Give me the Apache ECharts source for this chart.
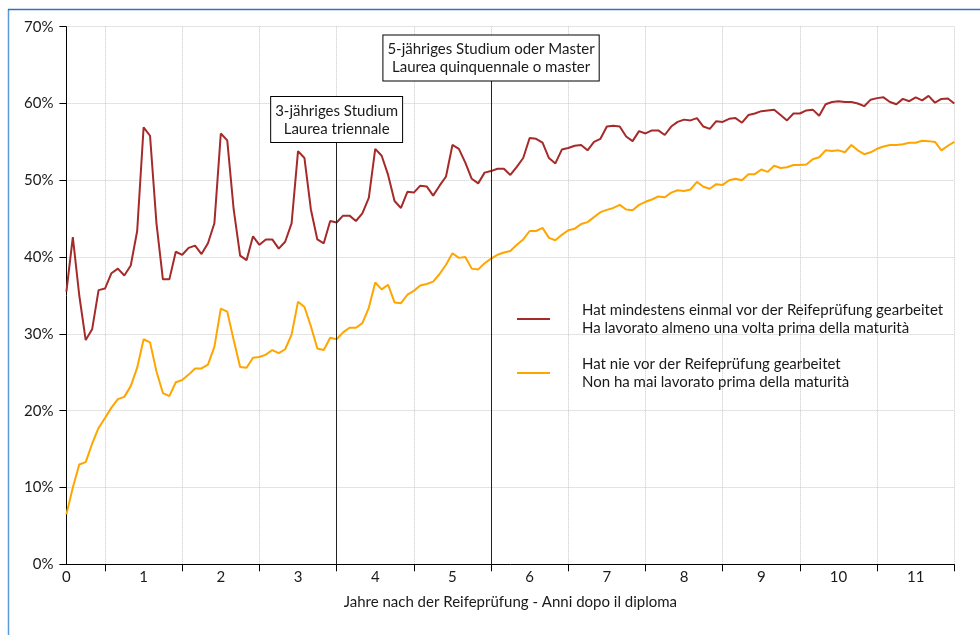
<!DOCTYPE html>
<html>
<head>
<meta charset="utf-8">
<script src="https://cdn.jsdelivr.net/npm/echarts@6/dist/echarts.min.js"></script>
<style>
  html, body { margin: 0; padding: 0; background: #fff; }
  #chart { width: 980px; height: 635px; }
</style>
</head>
<body>
<div id="chart"></div>
<script>
// ---- data (monthly values, month 0 .. 138) ----
const seriesNames = [
  'Hat mindestens einmal vor der Reifeprüfung gearbeitet\nHa lavorato almeno una volta prima della maturità',
  'Hat nie vor der Reifeprüfung gearbeitet\nNon ha mai lavorato prima della maturità'
];
const workedBefore = [
  35.5, 42.6, 35.0, 29.2, 30.6, 35.7, 35.9, 37.9, 38.5, 37.6, 38.9, 43.4,
  56.9, 55.8, 44.4, 37.1, 37.1, 40.7, 40.3, 41.2, 41.5, 40.4, 41.8, 44.4,
  56.1, 55.2, 46.2, 40.2, 39.6, 42.7, 41.6, 42.3, 42.3, 41.1, 42.0, 44.4,
  53.8, 52.9, 46.2, 42.3, 41.8, 44.7, 44.5, 45.4, 45.4, 44.7, 45.7, 47.7,
  54.1, 53.2, 50.7, 47.3, 46.4, 48.5, 48.4, 49.3, 49.2, 48.0, 49.3, 50.5,
  54.6, 54.1, 52.3, 50.2, 49.6, 51.0, 51.2, 51.5, 51.5, 50.7, 51.75, 52.9,
  55.5, 55.4, 54.9, 52.9, 52.2, 54.0, 54.2, 54.5, 54.6, 53.9, 55.0, 55.4,
  57.0, 57.1, 57.0, 55.7, 55.1, 56.4, 56.1, 56.5, 56.5, 55.9, 57.0, 57.6,
  57.9, 57.8, 58.1, 57.0, 56.7, 57.7, 57.6, 58.0, 58.1, 57.5, 58.5, 58.7,
  59.0, 59.1, 59.2, 58.5, 57.8, 58.7, 58.7, 59.1, 59.2, 58.4, 59.9, 60.2,
  60.3, 60.2, 60.2, 60.0, 59.65, 60.5, 60.7, 60.8, 60.2, 59.9, 60.6, 60.3,
  60.8, 60.4, 61.0, 60.1, 60.6, 60.65, 60.0
];
const neverWorked = [
  6.5, 10.0, 13.0, 13.3, 15.7, 17.75, 19.05, 20.4, 21.5, 21.8, 23.2, 25.6,
  29.3, 28.9, 25.1, 22.3, 21.9, 23.7, 24.0, 24.7, 25.5, 25.5, 26.0, 28.3,
  33.3, 32.9, 29.2, 25.7, 25.6, 26.9, 27.0, 27.3, 27.9, 27.5, 28.0, 29.9,
  34.2, 33.5, 31.0, 28.1, 27.9, 29.5, 29.3, 30.2, 30.8, 30.8, 31.4, 33.4,
  36.7, 35.8, 36.4, 34.1, 34.0, 35.1, 35.6, 36.3, 36.5, 36.8, 37.8, 39.0,
  40.5, 39.9, 40.0, 38.5, 38.4, 39.2, 39.8, 40.3, 40.6, 40.8, 41.6, 42.3,
  43.4, 43.4, 43.8, 42.5, 42.2, 42.9, 43.5, 43.7, 44.3, 44.55, 45.2, 45.85,
  46.15, 46.4, 46.8, 46.2, 46.1, 46.8, 47.2, 47.5, 47.9, 47.8, 48.4, 48.7,
  48.6, 48.8, 49.8, 49.15, 48.9, 49.5, 49.4, 50.0, 50.2, 50.0, 50.8, 50.8,
  51.4, 51.1, 51.9, 51.6, 51.7, 52.0, 52.0, 52.05, 52.75, 53.0, 53.9, 53.8,
  53.9, 53.65, 54.6, 53.9, 53.4, 53.65, 54.1, 54.4, 54.6, 54.6, 54.7, 54.9,
  54.9, 55.15, 55.1, 55.0, 53.9, 54.5, 55.0
];
// month categories (0 .. 138) and year tick labels
const months = workedBefore.map((_, i) => String(i));
const yearLabels = ['0','1','2','3','4','5','6','7','8','9','10','11'];
// study-length markers: month of vertical line, value where it ends, box text
const markerMonths = [42, 66];
const markerTops = [55.0, 63.0];
const markerTexts = [
  '3-jähriges Studium\nLaurea triennale',
  '5-jähriges Studium oder Master\nLaurea quinquennale o master'
];
const axisTitle = 'Jahre nach der Reifeprüfung - Anni dopo il diploma';

const FONT = 'Lato';
const TXT = '#1a1a1a';
const chart = echarts.init(document.getElementById('chart'), null, { renderer: 'canvas' });

const markLineData = markerMonths.map((m, i) => [
  { coord: [String(m), 0] },
  { coord: [String(m), markerTops[i]],
    label: {
      show: true, position: 'end', distance: 0,
      formatter: markerTexts[i],
      backgroundColor: '#fff', borderColor: '#000', borderWidth: 1,
      padding: [5, 4, 4, 4], lineHeight: 18, fontSize: 15,
      fontFamily: FONT, color: TXT, align: 'center'
    } }
]);

chart.setOption({
  animation: false,
  textStyle: { fontFamily: FONT },
  graphic: [
    { type: 'line', shape: { x1: 8.5, y1: 9, x2: 8.5, y2: 635 }, style: { stroke: '#5a9bd5', lineWidth: 1.5 } },
    { type: 'line', shape: { x1: 8, y1: 9.5, x2: 980, y2: 9.5 }, style: { stroke: '#2e75b6', lineWidth: 1.5 } }
  ],
  grid: { left: 66.4, right: 25.7, top: 26.7, bottom: 70.7, containLabel: false },
  legend: {
    orient: 'vertical', left: 517, top: 301, padding: 0,
    icon: 'rect', itemWidth: 33, itemHeight: 2, itemGap: 18,
    textStyle: { fontSize: 15, lineHeight: 18, color: TXT, fontFamily: FONT, padding: [0, 0, 0, 27] },
    data: seriesNames
  },
  xAxis: {
    type: 'category', data: months, boundaryGap: false,
    axisLine: { lineStyle: { color: '#000', width: 1 } },
    axisTick: { show: true, length: 7, lineStyle: { color: '#000' },
      interval: (idx) => idx % 12 === 6 },
    axisLabel: { fontSize: 15, color: TXT, margin: 5, fontFamily: FONT,
      interval: (idx) => idx % 12 === 0,
      formatter: (v, idx) => yearLabels[idx / 12] },
    splitLine: { show: true, interval: (idx) => idx % 12 === 6,
      lineStyle: { color: '#c8c8c8', type: 'dotted', width: 1 } },
    name: axisTitle, nameLocation: 'middle', nameGap: 30,
    nameTextStyle: { fontSize: 15, color: TXT, fontFamily: FONT }
  },
  yAxis: {
    type: 'value', min: 0, max: 70, interval: 10,
    axisLine: { show: true, lineStyle: { color: '#000', width: 1 } },
    axisTick: { show: true, length: 7, lineStyle: { color: '#000' } },
    axisLabel: { fontSize: 15, color: TXT, margin: 13, fontFamily: FONT, formatter: '{value}%' },
    splitLine: { show: true, lineStyle: { color: '#c8c8c8', type: 'dotted', width: 1 } }
  },
  series: [
    {
      name: seriesNames[0], type: 'line', data: workedBefore,
      symbol: 'none', showSymbol: false,
      lineStyle: { color: '#a52a2a', width: 2 }, itemStyle: { color: '#a52a2a' },
      markLine: {
        silent: true, symbol: 'none', animation: false,
        lineStyle: { color: '#222', width: 1, type: 'solid' },
        data: markLineData
      },
      z: 3
    },
    {
      name: seriesNames[1], type: 'line', data: neverWorked,
      symbol: 'none', showSymbol: false,
      lineStyle: { color: '#ffa500', width: 2 }, itemStyle: { color: '#ffa500' },
      z: 2
    }
  ]
});
</script>
</body>
</html>
